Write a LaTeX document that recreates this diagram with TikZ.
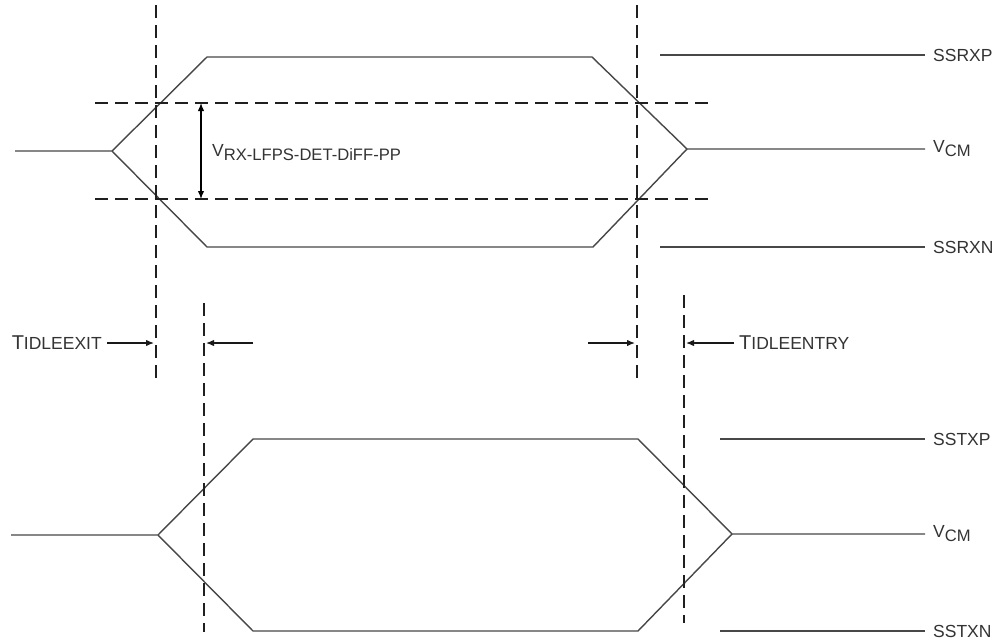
\documentclass[tikz,border=0pt]{standalone}
\usepackage{fontspec}
\setmainfont{Liberation Sans}
\usetikzlibrary{arrows.meta,calc,positioning}

\newcommand{\lvlname}[2]{{\fontsize{17.5}{20}\selectfont #1}\raisebox{-4pt}{\fontsize{16.6}{19}\selectfont #2}}
\newcommand{\timename}[2]{{\fontsize{20}{24}\selectfont #1}{\fontsize{17.5}{20}\selectfont #2}}

\begin{document}
\begin{tikzpicture}[>={Latex[length=8pt,width=6.5pt]}, x=1pt, y=-1pt, line join=miter,
	wavepath/.style={line width=1.4pt, draw=black!72},
	dashline/.style={line width=1.4pt, draw=black!88, dash pattern=on 13pt off 7pt},
	arr/.style={line width=1.3pt, draw=black!90, shorten >=2pt},
	siglbl/.style={anchor=west, inner sep=0pt, text=black!80, font=\fontsize{17.5}{20}\selectfont},
	timlbl/.style={inner sep=0pt, inner xsep=5pt, text=black!80}]
	
	\useasboundingbox (0,0) rectangle (999,640);
	
	% receiver (top)
	\coordinate (ra) at (15,151);
	\coordinate (rb) at (112,151);
	\coordinate (rc) at (207,57);
	\coordinate (rd) at (592,57);
	\coordinate (re) at (687,149);
	\coordinate (rf) at (925,149);
	\coordinate (rg) at (207,247);
	\coordinate (rh) at (593,247);
	\draw[wavepath] (ra) -- (rb) -- (rc) -- (rd) -- (re) -- (rf);
	\draw[wavepath] (rb) -- (rg) -- (rh) -- (re);
	
	\coordinate (rpl) at (660,55);
	\coordinate (rpr) at (925,55);
	\coordinate (rnl) at (660,247);
	\coordinate (rnr) at (925,247);
	\draw[wavepath] (rpl) -- (rpr);
	\draw[wavepath] (rnl) -- (rnr);
	\node[siglbl, right=8pt of rpr] (ssrxp) {SSRXP};
	\node[siglbl, right=8pt of rf] (vcmr) {\lvlname{V}{CM}};
	\node[siglbl, right=8pt of rnr] (ssrxn) {SSRXN};
	
	% detection thresholds
	\coordinate (h1l) at (95,103);
	\coordinate (h1r) at (710,103);
	\coordinate (h2l) at (95,199);
	\coordinate (h2r) at (710,199);
	\draw[dashline] (h1l) -- (h1r);
	\draw[dashline] (h2l) -- (h2r);
	
	\coordinate (va) at (201,0);
	\draw[<->, line width=1.3pt] (h1l -| va) -- (h2l -| va);
	\node[anchor=base west, inner sep=0pt, text=black!80] (vdiff) at (212,156) {\lvlname{V}{RX-LFPS-DET-DiFF-PP}};
	
	% transmitter (bottom)
	\coordinate (ta) at (11,535);
	\coordinate (tb) at (158,535);
	\coordinate (tc) at (253,439);
	\coordinate (td) at (638,439);
	\coordinate (te) at (732,534);
	\coordinate (tf) at (925,534);
	\coordinate (tg) at (253,631);
	\coordinate (th) at (638,631);
	\draw[wavepath] (ta) -- (tb) -- (tc) -- (td) -- (te) -- (tf);
	\draw[wavepath] (tb) -- (tg) -- (th) -- (te);
	
	\coordinate (tpl) at (720,439);
	\coordinate (tpr) at (925,439);
	\coordinate (tnl) at (720,631);
	\coordinate (tnr) at (925,631);
	\draw[wavepath] (tpl) -- (tpr);
	\draw[wavepath] (tnl) -- (tnr);
	\node[siglbl, right=8pt of tpr] (sstxp) {SSTXP};
	\node[siglbl, right=8pt of tf] (vcmt) {\lvlname{V}{CM}};
	\node[siglbl, right=8pt of tnr] (sstxn) {SSTXN};
	
	% timing markers
	\coordinate (d1t) at (156,5);
	\coordinate (d1b) at (156,383);
	\coordinate (d2t) at (637,5);
	\coordinate (d2b) at (637,383);
	\coordinate (d3t) at (204,303);
	\coordinate (d3b) at (204,632);
	\coordinate (d4t) at (684,295);
	\coordinate (d4b) at (684,623);
	\draw[dashline] (d1t) -- (d1b);
	\draw[dashline] (d2t) -- (d2b);
	\draw[dashline] (d3t) -- (d3b);
	\draw[dashline] (d4t) -- (d4b);
	
	\node[timlbl, anchor=east] (texit) at (107,343) {\timename{T}{IDLEEXIT}};
	\draw[->, arr] (texit.east) -- (texit.east -| d1t);
	\coordinate (a2) at (253,343);
	\draw[->, arr] (a2) -- (a2 -| d3t);
	
	\coordinate (a3) at (588,343);
	\draw[->, arr] (a3) -- (a3 -| d2t);
	\node[timlbl, anchor=west] (tentry) at (734,343) {\timename{T}{IDLEENTRY}};
	\draw[->, arr] (tentry.west) -- (tentry.west -| d4t);
	
\end{tikzpicture}
\end{document}
